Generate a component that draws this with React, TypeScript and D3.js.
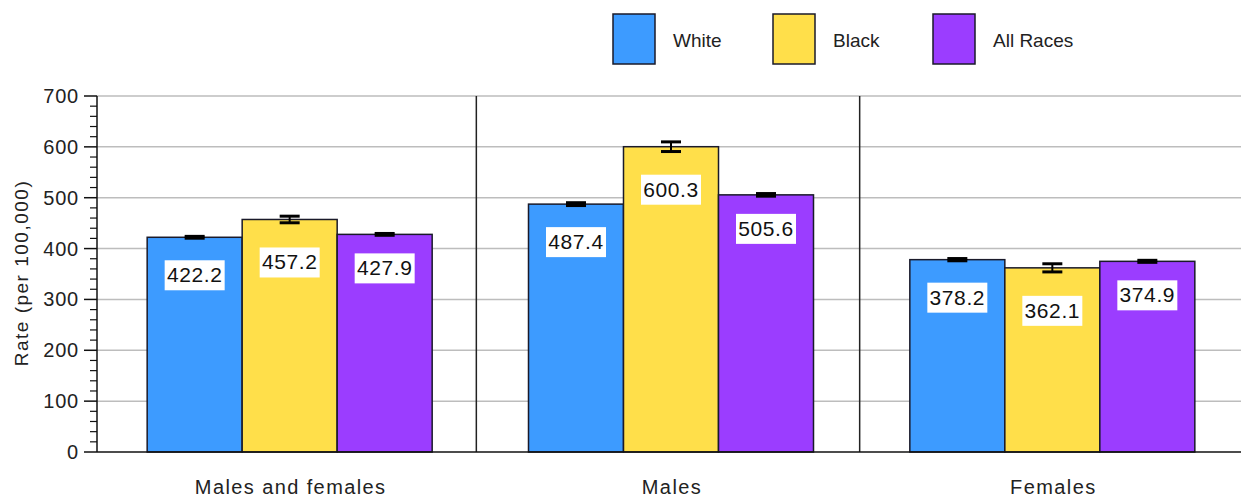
import React from "react";
import * as d3 from "d3";

const groups = ["Males and females", "Males", "Females"];
const series = ["White", "Black", "All Races"];
const colors = ["#3d9bff", "#ffdf4a", "#9b3dff"];
const whiteVals = [422.2, 487.4, 378.2];
const blackVals = [457.2, 600.3, 362.1];
const allVals = [427.9, 505.6, 374.9];
const whiteErr = [1.8, 2.8, 2.2];
const blackErr = [6.5, 9.5, 8.0];
const allErr = [1.8, 2.6, 2.0];
const yTicks = [0, 100, 200, 300, 400, 500, 600, 700];

const W = 1241;
const H = 497;
const FONT = "'Liberation Sans', Arial, sans-serif";

export default function App() {
  const left = 97;
  const right = 1241;
  const top = 96;
  const bottom = 452;
  const y = d3.scaleLinear().domain([0, 700]).range([bottom, top]);
  const x0 = d3.scaleBand<string>().domain(groups).range([left + 2, right + 2]).padding(0);
  const x1 = d3
    .scaleBand<string>()
    .domain(series)
    .range([0, x0.bandwidth()])
    .paddingInner(0)
    .paddingOuter(0.507);
  const vals = [whiteVals, blackVals, allVals];
  const errs = [whiteErr, blackErr, allErr];
  const labelOffset = [38, 43, 34];
  const minorTicks = d3.range(0, 701, 20).filter((v) => v % 100 !== 0);

  return (
    <div style={{ position: "absolute", left: 0, top: 0 }}>
      <svg width={W} height={H} style={{ display: "block", background: "#fff" }} fontFamily={FONT}>
        {/* gridlines */}
        {yTicks.filter((t) => t > 0).map((t) => (
          <line key={"g" + t} x1={left} x2={right} y1={y(t)} y2={y(t)} stroke="#bdbdbd" strokeWidth={1.5} />
        ))}
        {/* group separators */}
        {groups.slice(1).map((g, i) => (
          <line
            key={"s" + g}
            x1={x0(g)! - 4 + i * 2}
            x2={x0(g)! - 4 + i * 2}
            y1={top}
            y2={bottom}
            stroke="#222"
            strokeWidth={1.5}
          />
        ))}
        {/* bars */}
        {groups.map((g, gi) =>
          series.map((s, si) => {
            const v = vals[si][gi];
            const bx = x0(g)! + x1(s)!;
            return (
              <rect
                key={g + s}
                x={bx}
                y={y(v)}
                width={x1.bandwidth()}
                height={bottom - y(v)}
                fill={colors[si]}
                stroke="#1a1a2a"
                strokeWidth={1.5}
              />
            );
          })
        )}
        {/* error bars */}
        {groups.map((g, gi) =>
          series.map((s, si) => {
            const v = vals[si][gi];
            const e = errs[si][gi];
            const cx = x0(g)! + x1(s)! + x1.bandwidth() / 2;
            return (
              <g key={"e" + g + s} stroke="#000" strokeWidth={3}>
                <line x1={cx} x2={cx} y1={y(v + e)} y2={y(v - e)} strokeWidth={2} />
                <line x1={cx - 10} x2={cx + 10} y1={y(v + e)} y2={y(v + e)} />
                <line x1={cx - 10} x2={cx + 10} y1={y(v - e)} y2={y(v - e)} />
              </g>
            );
          })
        )}
        {/* value labels */}
        {groups.map((g, gi) =>
          series.map((s, si) => {
            const v = vals[si][gi];
            const cx = x0(g)! + x1(s)! + x1.bandwidth() / 2;
            const cy = y(v) + labelOffset[si];
            const txt = v.toFixed(1);
            const tw = 56;
            return (
              <g key={"l" + g + s}>
                <rect x={cx - tw / 2 - 2} y={cy - 15} width={tw + 4} height={30} fill="#fff" />
                <text x={cx} y={cy + 7} textAnchor="middle" fontSize={21} fill="#111" letterSpacing={0.6}>
                  {txt}
                </text>
              </g>
            );
          })
        )}
        {/* axes */}
        <line x1={left} x2={left} y1={top} y2={bottom} stroke="#111" strokeWidth={1.5} />
        <line x1={left} x2={right} y1={bottom} y2={bottom} stroke="#111" strokeWidth={1.5} />
        {yTicks.map((t) => (
          <g key={"t" + t}>
            <line x1={left - 13} x2={left} y1={y(t)} y2={y(t)} stroke="#111" strokeWidth={1.5} />
            <text x={left - 18} y={y(t) + 7} textAnchor="end" fontSize={20} fill="#222" letterSpacing={0.8}>
              {t}
            </text>
          </g>
        ))}
        {minorTicks.map((t) => (
          <line key={"m" + t} x1={left - 7} x2={left} y1={y(t)} y2={y(t)} stroke="#111" strokeWidth={1.2} />
        ))}
        <text
          transform={`translate(28, ${(top + bottom) / 2 - 1}) rotate(-90)`}
          textAnchor="middle"
          fontSize={19}
          fill="#222"
          letterSpacing={1.5}
        >
          Rate (per 100,000)
        </text>
        {/* category labels */}
        {groups.map((g) => (
          <text
            key={"c" + g}
            x={x0(g)! + x0.bandwidth() / 2 + 1}
            y={494}
            textAnchor="middle"
            fontSize={20}
            fill="#222"
            letterSpacing={1.4}
          >
            {g}
          </text>
        ))}
        {/* legend */}
        {series.map((s, i) => {
          const lx = 613 + i * 160;
          return (
            <g key={"lg" + s}>
              <rect x={lx} y={14} width={42} height={50} fill={colors[i]} stroke="#1a1a2a" strokeWidth={1.5} />
              <text x={lx + 60} y={47} fontSize={19} fill="#222">
                {s}
              </text>
            </g>
          );
        })}
      </svg>
    </div>
  );
}
